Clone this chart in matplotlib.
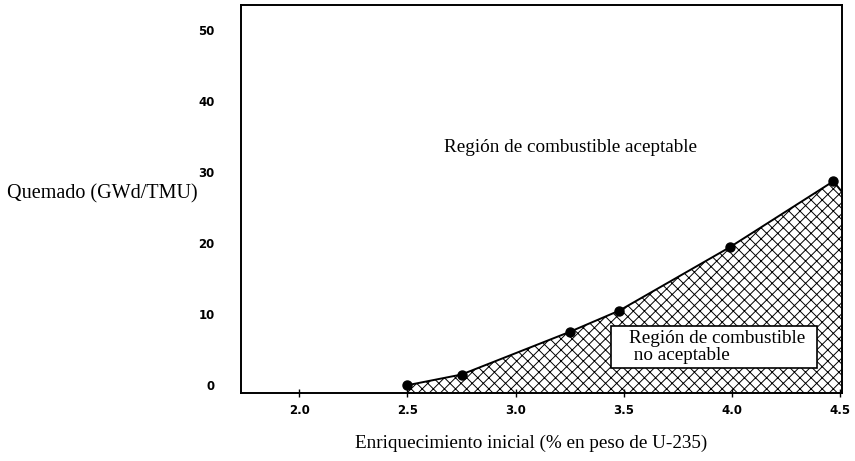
import numpy as np
import matplotlib
matplotlib.use("Agg")
import matplotlib.pyplot as plt
from matplotlib.patches import Rectangle

# data
enriquecimiento = [2.5, 2.75, 3.25, 3.48, 3.99, 4.47]
quemado = [0.0, 1.5, 7.5, 10.5, 19.4, 28.7]
xticks = [2.0, 2.5, 3.0, 3.5, 4.0, 4.5]
yticks = [0, 10, 20, 30, 40, 50]

serif = "Liberation Serif"
plt.rcParams["hatch.linewidth"] = 0.7

fig = plt.figure(figsize=(8.55, 4.61), dpi=100)
ax = fig.add_axes([0.2819, 0.1475, 0.7029, 0.8415])

xmin, xmax = 1.73, 4.51
ymin, ymax = -1.1, 53.5

# curve extended to the right edge for the shaded region
xf = enriquecimiento + [xmax]
yf = quemado + [quemado[-1] - 1.5]
ax.fill_between(xf, yf, ymin, facecolor="white", edgecolor="black",
                hatch="xxx", linewidth=0)
ax.plot(xf, yf, color="black", lw=1.4)
ax.plot(enriquecimiento, quemado, "o", color="black", ms=6.5)

ax.set_xlim(xmin, xmax)
ax.set_ylim(ymin, ymax)
ax.set_xticks(xticks)
ax.set_xticklabels([f"{v:.1f}" for v in xticks])
ax.set_yticks(yticks)
ax.tick_params(axis="x", direction="inout", length=6, width=1, pad=5)
ax.tick_params(axis="y", length=0, pad=19)
for lab in ax.get_xticklabels() + ax.get_yticklabels():
    lab.set_fontweight("heavy")
    lab.set_fontsize(8.5)
    lab.set_family("DejaVu Sans")
for s in ax.spines.values():
    s.set_linewidth(1.4)

ax.text(3.256, 33.4, "Región de combustible aceptable", fontsize=13.8,
        family=serif, ha="center", va="center")

# box for the non acceptable region
ax.add_patch(Rectangle((3.441, 2.39), 0.953, 5.92, facecolor="white",
                       edgecolor="black", lw=1.2, zorder=3))
ax.text(3.525, 5.35, "Región de combustible\n no aceptable", fontsize=13.8,
        family=serif, ha="left", va="center", linespacing=1.0, zorder=4)

fig.text(0.008, 0.579, "Quemado (GWd/TMU)", fontsize=14.5, family=serif,
         ha="left", va="center")
fig.text(0.621, 0.039, "Enriquecimiento inicial (% en peso de U-235)",
         fontsize=13.8, family=serif, ha="center", va="center")

fig.savefig("out.png", dpi=100)
